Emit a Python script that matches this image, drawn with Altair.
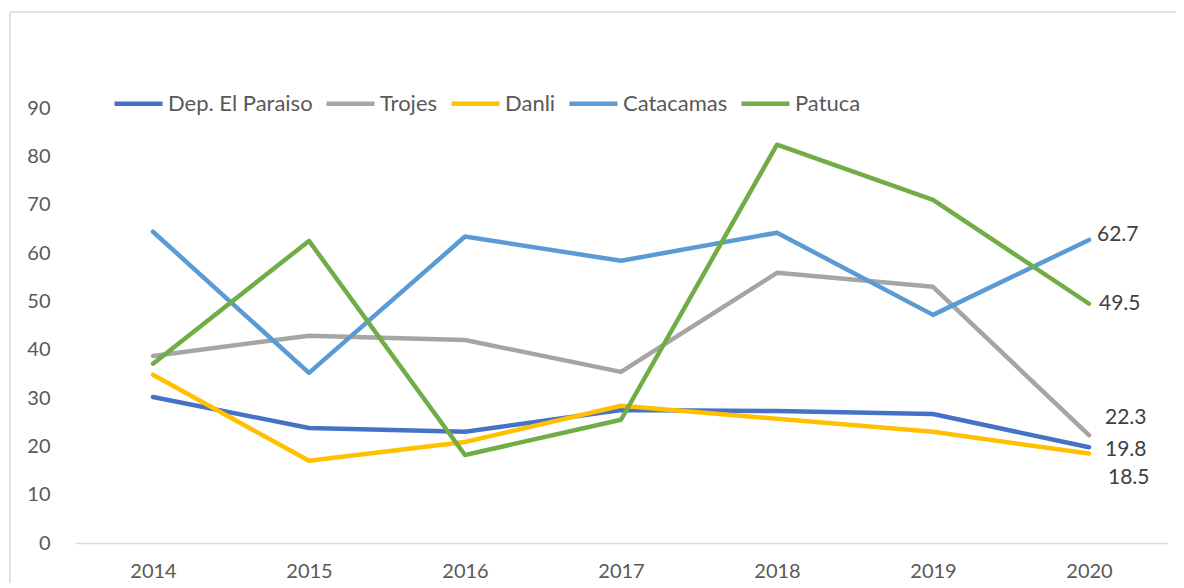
import altair as alt
import pandas as pd

years = ["2014", "2015", "2016", "2017", "2018", "2019", "2020"]
series = ["Dep. El Paraiso", "Trojes", "Danli", "Catacamas", "Patuca"]
colors = ["#4472C4", "#A5A5A5", "#FFC000", "#5B9BD5", "#70AD47"]

el_paraiso = [30.2, 23.8, 23.0, 27.5, 27.3, 26.7, 19.8]
trojes = [38.7, 42.9, 42.0, 35.4, 55.9, 53.0, 22.3]
danli = [34.8, 17.0, 20.9, 28.4, 25.7, 23.0, 18.5]
catacamas = [64.4, 35.2, 63.4, 58.4, 64.2, 47.2, 62.7]
patuca = [37.1, 62.5, 18.2, 25.5, 82.4, 71.0, 49.5]

values = [el_paraiso, trojes, danli, catacamas, patuca]
rows = []
for s, vals in zip(series, values):
    for i, (y, v) in enumerate(zip(years, vals)):
        rows.append({"year": y, "series": s, "value": v, "order": series.index(s)})
df = pd.DataFrame(rows)

W, H = 1092, 435
PL, PT, PR, PB = 67, 100, 9, 40
FONT = "Lato"

xenc = alt.X("year:O", scale=alt.Scale(type="point", padding=0.5, domain=years),
             axis=alt.Axis(title=None, labelAngle=0, ticks=False, grid=False,
                           domainColor="#D9D9D9", domainWidth=1.5,
                           labelPadding=18, labelFontSize=20, labelColor="#595959",
                           labelFont=FONT))
yenc = alt.Y("value:Q", scale=alt.Scale(domain=[0, 90], nice=False),
             axis=alt.Axis(title=None, values=list(range(0, 91, 10)), ticks=False,
                           grid=False, domain=False, labelPadding=25,
                           labelFontSize=20, labelColor="#595959", labelFont=FONT))

lines = alt.Chart(df).mark_line(strokeWidth=4.5, strokeCap="round", strokeJoin="round").encode(
    x=xenc,
    y=yenc,
    color=alt.Color("series:N", scale=alt.Scale(domain=series, range=colors),
                    legend=alt.Legend(title=None, orient="none", legendX=37, legendY=-31,
                                      direction="horizontal", columns=5,
                                      symbolType="stroke", symbolSize=2304,
                                      symbolStrokeWidth=4.5, labelFontSize=22,
                                      labelColor="#595959", labelFont=FONT,
                                      labelOffset=3, columnPadding=4, padding=0)),
    order=alt.Order("order:Q"),
    detail="series:N",
)

last = df[df["year"] == "2020"]
offsets = {
    "Catacamas": (8, -5),
    "Patuca": (10, 0),
    "Trojes": (16, -17),
    "Dep. El Paraiso": (16, 3),
    "Danli": (19, 24),
}
texts = []
for s in series:
    dx, dy = offsets[s]
    t = alt.Chart(last).transform_filter(alt.datum.series == s).mark_text(
        align="left", baseline="middle", dx=dx, dy=dy, fontSize=21, font=FONT,
        color="#404040").encode(
        x=alt.X("year:O", scale=alt.Scale(type="point", padding=0.5, domain=years)),
        y=alt.Y("value:Q", scale=alt.Scale(domain=[0, 90], nice=False)),
        text=alt.Text("value:Q", format=".1f"),
    )
    texts.append(t)

frame_top = alt.Chart(pd.DataFrame({"a": [0]})).mark_rule(color="#D9D9D9", strokeWidth=1.5, clip=False).encode(
    x=alt.value(-65), x2=alt.value(W + PR), y=alt.value(-96))
frame_left = alt.Chart(pd.DataFrame({"a": [0]})).mark_rule(color="#D9D9D9", strokeWidth=1.5, clip=False).encode(
    x=alt.value(-65), y=alt.value(-96), y2=alt.value(H + PB))

chart = alt.layer(frame_top, frame_left, lines, *texts).properties(
    width=W, height=H,
    background="white",
    autosize=alt.AutoSizeParams(type="none"),
    padding={"left": PL, "top": PT, "right": PR, "bottom": PB},
).configure_view(stroke="transparent", strokeWidth=0)

chart.save("out.html", embed_options={"renderer": "svg", "actions": False})
